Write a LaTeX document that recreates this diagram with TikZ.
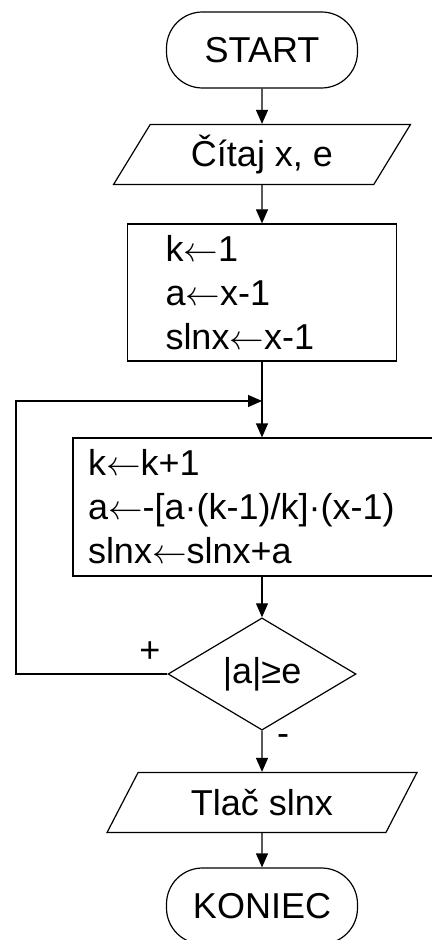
\documentclass[tikz,border=0pt]{standalone}
\usepackage{fontspec}
\setmainfont{Liberation Sans}
\usetikzlibrary{shapes.geometric,arrows.meta}

% assignment arrow
\newcommand{\asgn}{\ensuremath{\leftarrow}}

\tikzset{
  term/.style={draw, rectangle, rounded corners=18pt, minimum width=95.5pt, minimum height=38pt},
  io/.style={draw, trapezium, trapezium left angle=64, trapezium right angle=116,
    trapezium stretches, minimum height=30pt},
  proc/.style={draw, rectangle, align=left},
  dec/.style={draw, diamond, minimum width=94pt, minimum height=56pt, inner sep=0pt},
  arr/.style={-{Triangle[length=7pt,width=6pt]}},
}

\begin{document}
\begin{tikzpicture}[x=0.5pt, y=-0.5pt, line width=0.6pt, font=\fontsize{18}{22}\selectfont]
  \useasboundingbox (0,0) rectangle (432,940);
  \clip (0,0) rectangle (432,940);

  % start, input
  \node[term] (start) at (262,50) {START};
  \node[io, minimum width=148.5pt] (read) at (262,154.5) {Čítaj x, e};

  % initial values
  \node[proc, minimum width=134.5pt, minimum height=68.5pt, text width=96.5pt, inner xsep=19pt]
    (init) at (262,292.5) {k\asgn1\\ a\asgn x-1\\ slnx\asgn x-1};

  % loop body and test
  \node[proc, minimum width=189pt, minimum height=69pt, text width=174pt, inner xsep=7.5pt]
    (body) at (262,507) {k\asgn k+1\\ a\asgn-[a·(k-1)/k]·(x-1)\\ slnx\asgn slnx+a};
  \node[dec] (test) at (262,674) {|a|≥e};
  \node (plus) at (150,652) {+};
  \node (minus) at (283,740) {-};

  % output, end
  \node[io, minimum width=156.5pt] (print) at (262,802.5) {Tlač slnx};
  \node[term] (stop) at (262,906) {KONIEC};

  \coordinate (merge) at (262,401);
  \coordinate (back) at (16,401);

  \draw[arr] (start) -- (read);
  \draw[arr] (read) -- (init);
  \draw[arr] (init) -- (body);
  \draw[arr] (body) -- (test);
  \draw[arr] (test) -- (print);
  \draw[arr] (print) -- (stop);
  % back to the loop
  \draw[arr] (test.west) -| (back) -- (merge);
\end{tikzpicture}
\end{document}
